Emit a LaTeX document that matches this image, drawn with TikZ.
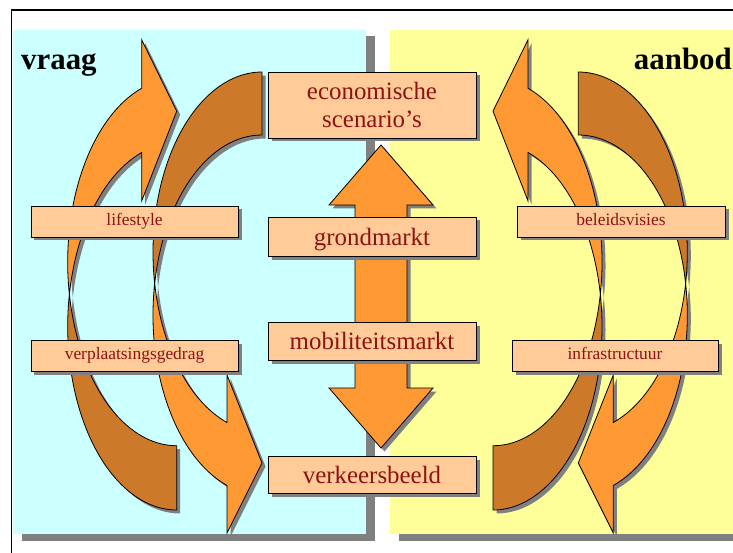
\documentclass[tikz,border=0pt]{standalone}
\usepackage{fontspec}
\setmainfont{Liberation Serif}
\usepackage{tikz}
\usetikzlibrary{shadows}
\definecolor{vraagkleur}{HTML}{CCFFFF}
\definecolor{aanbodkleur}{HTML}{FFFF99}
\definecolor{schaduw}{HTML}{808080}
\definecolor{oranje}{HTML}{FF9933}
\definecolor{bruin}{HTML}{CC7A29}
\definecolor{vakkleur}{HTML}{FFCC99}
\definecolor{rood}{HTML}{8E1212}
\tikzset{
  rand/.style={draw=black,line width=0.8bp},
  vak/.style={rand,fill=vakkleur,text=rood,inner sep=0pt,align=center,
    drop shadow={shadow xshift=3.5bp,shadow yshift=-3.5bp,fill=schaduw,opacity=1}},
  grootvak/.style={vak,minimum width=208bp,text depth=0pt,font=\fontsize{25}{28}\selectfont},
  kleinvak/.style={vak,minimum height=31bp,text height=12bp,text depth=3.5bp,font=\fontsize{17.5}{20}\selectfont},
  kop/.style={inner sep=0pt,font=\fontsize{31}{34}\selectfont\bfseries},
}
\newcommand{\bruinpad}{(0,0) arc[start angle=270,end angle=169.92,x radius=109,y radius=180]
  arc[start angle=190.08,end angle=270,x radius=109,y radius=180] -- cycle}
\newcommand{\oranjepad}{(-107.32,211.5) arc[start angle=190.08,end angle=108.73,x radius=109,y radius=180]
  -- (-35,461) -- (0,391) -- (-35,303) -- (-35,350.5)
  arc[start angle=108.73,end angle=169.92,x radius=109,y radius=180] -- cycle}
\newcommand{\bochtpijl}[4]{%
  \begin{scope}[shift={(#1+3.5,#2+3.5)},xscale=#3,yscale=#4]
    \fill[schaduw] \bruinpad; \fill[schaduw] \oranjepad;
  \end{scope}
  \begin{scope}[shift={(#1,#2)},xscale=#3,yscale=#4]
    \filldraw[rand,fill=bruin] \bruinpad;
    \filldraw[rand,fill=oranje] \oranjepad;
  \end{scope}}

\begin{document}
\begin{tikzpicture}[x=1bp,y=-1bp]
\useasboundingbox (0,0) rectangle (733,553);
\draw[line width=1.2bp] (733,10) -- (11.7,10) -- (11.7,553);
\fill[schaduw] (21.7,36) rectangle (374.7,541);
\fill[vraagkleur] (12.7,30) rectangle (365.5,533.7);
\fill[schaduw] (399,36) rectangle (733,541);
\fill[aanbodkleur] (390,30) rectangle (733,533.7);
\node[kop,anchor=base west] (vraag) at (21,70) {vraag};
\node[kop,anchor=base east] (aanbod) at (732,70) {aanbod};
\bochtpijl{176.7}{510}{1}{-1.02}
\bochtpijl{262}{72}{1}{1}
\bochtpijl{493}{510}{-1}{-1.02}
\bochtpijl{578.3}{72}{-1}{1}
\fill[schaduw,shift={(3.5,3.5)}] (381,145) -- (433,205) -- (407,205) -- (407,388) -- (433,388)
  -- (381,448) -- (329,388) -- (355,388) -- (355,205) -- (329,205) -- cycle;
\filldraw[rand,fill=oranje] (381,145) -- (433,205) -- (407,205) -- (407,388) -- (433,388)
  -- (381,448) -- (329,388) -- (355,388) -- (355,205) -- (329,205) -- cycle;
\node[grootvak,minimum height=66bp] (econ) at (372,105) {economische\\scenario's};
\node[grootvak,minimum height=39bp] (grond) at (372,236.5) {grondmarkt};
\node[grootvak,minimum height=38bp] (mobiel) at (372,341) {mobiliteitsmarkt};
\node[grootvak,minimum height=37bp] (verkeer) at (372,474.5) {verkeersbeeld};
\node[kleinvak,minimum width=207bp] (lifestyle) at (134.5,221.5) {lifestyle};
\node[kleinvak,minimum width=207bp] (gedrag) at (134.5,355.5) {verplaatsingsgedrag};
\node[kleinvak,minimum width=208bp] (beleid) at (621,221.5) {beleidsvisies};
\node[kleinvak,minimum width=206bp] (infra) at (615,355.5) {infrastructuur};
\end{tikzpicture}
\end{document}
